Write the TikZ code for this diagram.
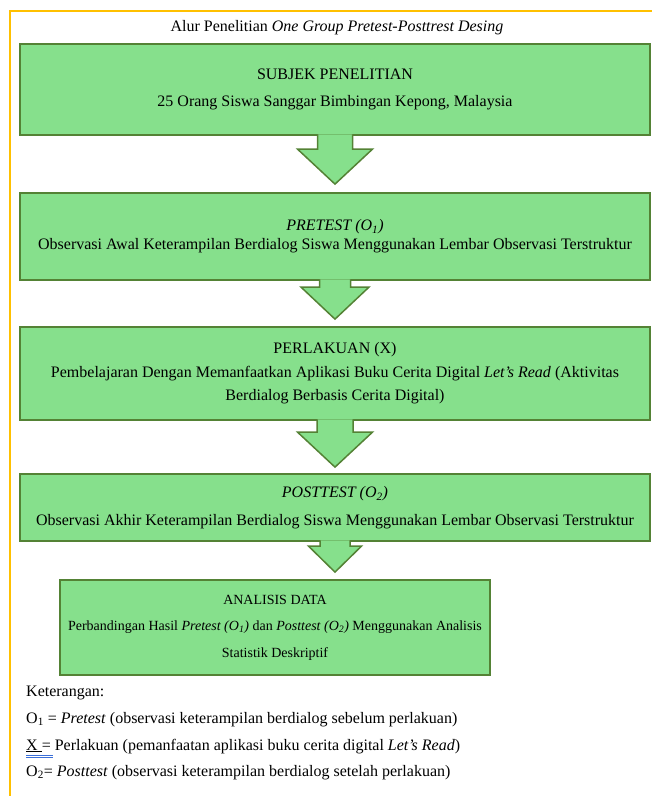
\documentclass[tikz,border=0pt]{standalone}
\usepackage{fontspec}
\setmainfont{Liberation Serif}
\usepackage{tikz}
\usetikzlibrary{calc}
\definecolor{hijau}{HTML}{86E08C}
\definecolor{hijautua}{HTML}{548235}
\definecolor{kuning}{HTML}{FFC000}
\definecolor{biru}{HTML}{3B6FD8}
\tikzstyle{kotak}=[rectangle, draw=hijautua, fill=hijau, line width=1.8pt, align=center, inner sep=0pt]
\tikzstyle{panah}=[draw=hijautua, fill=hijau, line width=1.5pt, line join=miter]
\tikzstyle{ket}=[anchor=base west, inner sep=0pt]
% panah blok: dari, ke, setengah batang, setengah kepala, panjang kepala, jarak
\newcommand{\panahblok}[6]{%
  \path[panah] let \p1=(#1.south), \p2=(#2.north) in
    (\x1-#3,\y1+1.5) -- (\x1-#3,\y2+#6+#5) -- (\x1-#4,\y2+#6+#5) -- (\x1,\y2+#6)
    -- (\x1+#4,\y2+#6+#5) -- (\x1+#3,\y2+#6+#5) -- (\x1+#3,\y1+1.5);
}

\begin{document}
\begin{tikzpicture}[x=1pt, y=-1pt, font=\fontsize{16}{19}\selectfont]
	\useasboundingbox (0,0) rectangle (652,796);
	\draw[kuning, line width=2pt] (10,800) -- (10,11) -- (660,11);
	\node[inner sep=0pt] (judul) at (337,28) {Alur Penelitian \textit{One Group Pretest-Posttrest Desing}};
	% kotak alur
	\node[kotak, minimum width=630, minimum height=91] (subjek) at (335,89.5)
		{SUBJEK PENELITIAN\\[8.5pt]25 Orang Siswa Sanggar Bimbingan Kepong, Malaysia};
	\node[kotak, minimum width=630, minimum height=87] (pretest) at (335,236.5)
		{\textit{PRETEST (O\textsubscript{1})}\\Observasi Awal Keterampilan Berdialog Siswa Menggunakan Lembar Observasi Terstruktur};
	\node[kotak, minimum width=630, minimum height=93] (perlakuan) at (335,373.5)
		{PERLAKUAN (X)\\[4.5pt]Pembelajaran Dengan Memanfaatkan Aplikasi Buku Cerita Digital \textit{Let's Read} (Aktivitas\\[4.5pt]Berdialog Berbasis Cerita Digital)};
	\node[kotak, minimum width=630, minimum height=67] (posttest) at (335,507.5)
		{\textit{POSTTEST (O\textsubscript{2})}\\[8.5pt]Observasi Akhir Keterampilan Berdialog Siswa Menggunakan Lembar Observasi Terstruktur};
	\node[kotak, minimum width=430, minimum height=95, font=\fontsize{14}{18.5}\selectfont] (analisis) at (275,627.5)
		{ANALISIS DATA\\[8pt]Perbandingan Hasil \textit{Pretest (O\textsubscript{1})} dan \textit{Posttest (O\textsubscript{2})} Menggunakan Analisis\\[8pt]Statistik Deskriptif};
	% panah
	\panahblok{subjek}{pretest}{17.5}{37.5}{35}{8}
	\panahblok{pretest}{perlakuan}{15.5}{34}{32}{7}
	\panahblok{perlakuan}{posttest}{18}{37.5}{35}{6}
	\panahblok{posttest}{analisis}{15}{26.5}{26}{7}
	% keterangan
	\node[ket] (ket0) at (26,696) {Keterangan:};
	\node[ket] (ket1) at (26,723) {O\textsubscript{1} = \textit{Pretest} (observasi keterampilan berdialog sebelum perlakuan)};
	\node[ket] (ket2) at (26,750) {\underline{X\ }= Perlakuan (pemanfaatan aplikasi buku cerita digital \textit{Let's Read})};
	\node[ket] (ket3) at (26,776) {O\textsubscript{2}= \textit{Posttest} (observasi keterampilan berdialog setelah perlakuan)};
	\draw[biru, line width=0.6pt] ($(ket2.base west)+(0,5)$) -- ++(27,0);
	\draw[biru, line width=0.6pt] ($(ket2.base west)+(0,7)$) -- ++(27,0);
\end{tikzpicture}
\end{document}
